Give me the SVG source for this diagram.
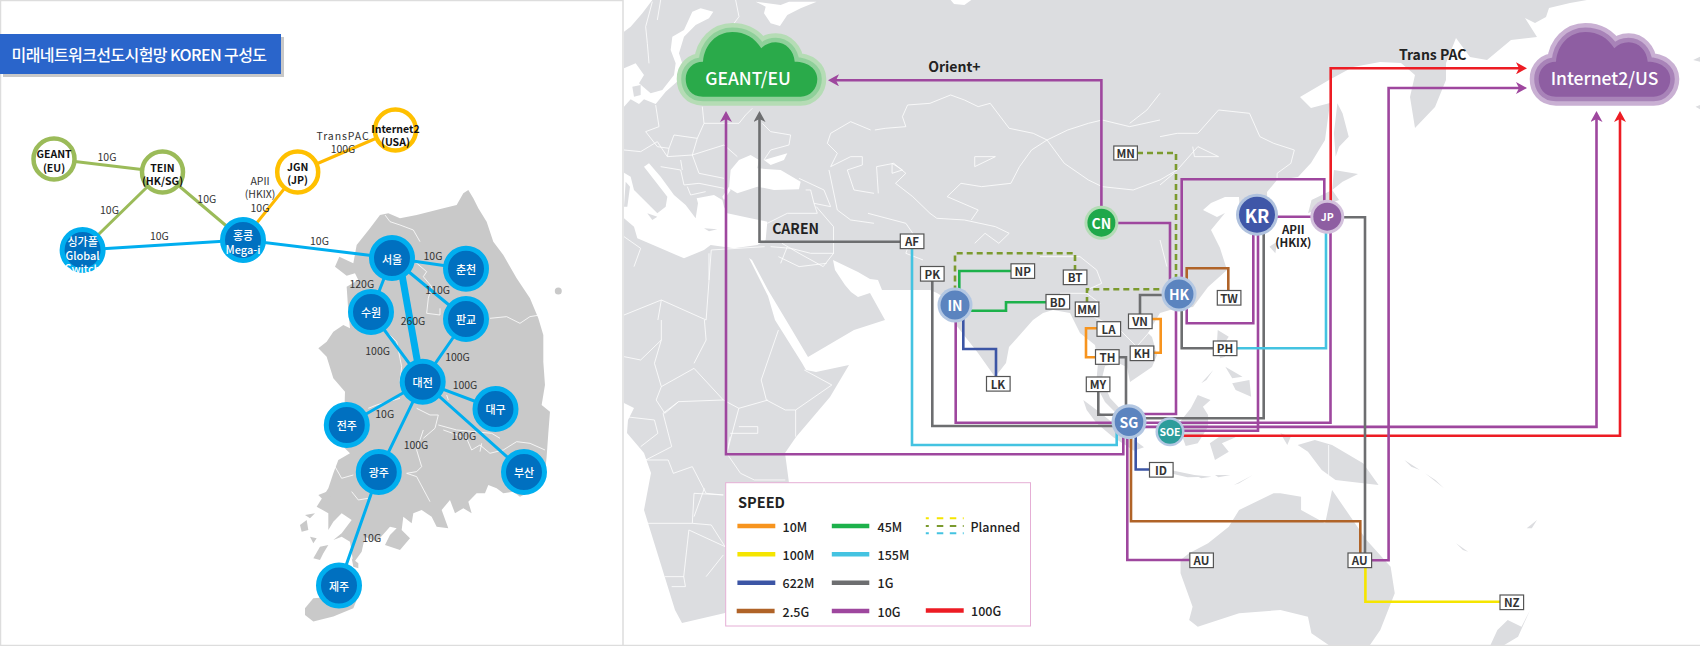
<svg xmlns="http://www.w3.org/2000/svg" width="1700" height="646" viewBox="0 0 1700 646">
<style>
text{font-family:"Noto Sans CJK KR","Noto Sans",sans-serif;dominant-baseline:central}
.m{text-anchor:middle}
.lb{font-size:10.5px;fill:#333;text-anchor:middle}
.nb{font-size:10.5px;font-weight:700;fill:#111;text-anchor:middle}
.nw{font-size:11px;font-weight:500;fill:#fff;text-anchor:middle}
.lnd{fill:#dcdde0}
.sea{fill:#fff}
.kr{fill:#c9c9c9}
.bd{fill:none;stroke:#fff;stroke-width:.8;vector-effect:non-scaling-stroke}
.l{fill:none;stroke-width:2.6}
.or{stroke:#f7941e}.ye{stroke:#f5e500}.bl{stroke:#3c55a5}.br{stroke:#b06328}.gn{stroke:#1db14b}.cy{stroke:#44c3e1}.gy{stroke:#6d6e70}.pu{stroke:#9e479e}.re{stroke:#ed1c24}
.pl{stroke:#7b9a2e;stroke-dasharray:6 4}
.k{fill:none;stroke-width:3}
.kg{stroke:#9bbb59}.ky{stroke:#ffb900}.kc{stroke:#00aeef}
.rg{fill:#fff;stroke-width:4.5}
.ci{fill:#0070c0;stroke:#00aeef;stroke-width:5}
.box rect{fill:#fff;stroke:#555;stroke-width:1.2}
.box text{font-size:11.5px;font-weight:700;fill:#333;text-anchor:middle}
.hub{font-weight:700;fill:#fff;text-anchor:middle}
.tt{font-size:14px;font-weight:700;fill:#222;text-anchor:middle}
.leg{font-size:12.5px;font-weight:500;fill:#222}
</style>
<defs>
<marker id="ap" markerUnits="userSpaceOnUse" markerWidth="12" markerHeight="12" refX="3" refY="6" orient="auto"><path d="M0 0L11 6L0 12L3 6Z" fill="#9e479e"/></marker>
<marker id="ag" markerUnits="userSpaceOnUse" markerWidth="12" markerHeight="12" refX="3" refY="6" orient="auto"><path d="M0 0L11 6L0 12L3 6Z" fill="#6d6e70"/></marker>
<marker id="ar" markerUnits="userSpaceOnUse" markerWidth="12" markerHeight="12" refX="3" refY="6" orient="auto"><path d="M0 0L11 6L0 12L3 6Z" fill="#ed1c24"/></marker>
<path id="cloud" d="M703 96.700C691 96.700 685.700 88 685.700 79C685.700 69 693 61.700 703 61.700C704.500 44 717 32 732.300 32C745 32 755 38 761.300 48.300C765 44.500 770 42.300 775.700 42.300C786 42.300 794 51 794.700 61.700C808 61.700 817.300 69 817.300 79C817.300 89 810 96.700 800.700 96.700Z"/>
</defs>
<rect width="1700" height="646" fill="#fff"/>

<!-- world map -->
<g id="world-map">
<path class="lnd" d="M624 0L1587 0L1570 3L1549 8L1546 17L1535 23L1525 18L1537 37L1511 40L1487 60L1470 57L1456 38L1446 63L1446 80L1435 107L1415 128L1410 97L1415 75L1401 63L1380 62L1353 67L1329 80L1300 97L1311 108L1330 103L1325 140L1311 163L1298 177L1277 180L1267 192L1268 225L1250 235L1240 215L1239 197L1225 197L1211 203L1203 210L1217 217L1225 213L1211 230L1220 248L1227 270L1208 287L1193 307L1170 310L1160 313L1148 333L1152 337L1157 355L1152 367L1130 382L1127 367L1118 363L1105 366L1102 378L1110 398L1125 414L1118 415L1105 402L1096 385L1098 363L1095 345L1080 333L1070 313L1053 310L1043 313L1033 320L1009 347L1006 363L995 377L978 353L956 325L945 298L937 293L930 290L882 290L878 280L870 279L858 272L833 260L835 270L845 285L851 292L858 297L870 293L885 320L854 330L808 357L792 330L768 290L752 260L749 258L768 296L775 320L802 363L806 370L816 372L849 365L830 397L796 437L785 453L789 483L770 560L725 613L682 623L675 610L644 510L651 473L644 453L627 433L628 420L634 408L624 403Z"/>
<g transform="translate(624 0) scale(.3333)">
<path class="sea" d="M0 0L85 0L55 40L20 80L0 95ZM205 35L230 25L268 35L255 55L215 75L195 95L180 110L165 160L178 200L165 240L125 275L95 312L60 298L45 312L20 298L0 320L0 205L35 190L60 225L45 250L80 280L115 270L150 225L155 190L140 150L145 110L180 90ZM395 5L470 15L495 5L578 5L530 25L490 45L468 78L440 70L420 40L425 20Z"/>
<path class="sea" d="M0 518L20 530L30 570L70 610L100 640L125 620L130 590L60 500L75 490L110 530L150 585L185 615L215 655L222 610L218 595L270 585L295 600L300 620L310 640L380 655L430 665L425 720L400 735L330 745L260 735L240 750L180 775L110 745L40 715L30 680L0 655Z"/>
<path class="sea" d="M320 510L345 480L380 465L405 480L400 505L470 510L530 545L525 568L450 570L400 560L340 580L315 565ZM420 480L490 460L480 480L440 495Z"/>
<path class="sea" d="M295 590L315 560L320 570L300 600Z"/>
<path class="lnd" d="M25 260L50 255L50 285L30 290ZM5 545L18 560L10 620L0 620ZM70 640L100 650L85 660ZM240 685L280 688L255 694Z"/>
<path class="bd" d="M85 5L65 80L70 130L75 190M110 0L100 60M335 0L345 50L330 70L345 100M95 315L105 380L65 395L100 440L135 445L150 405L220 415L240 370L235 320M240 370L345 370L365 345L385 325M415 370L440 395L500 405L495 435L440 450L420 480M220 415L205 465L300 435L340 470M135 445L130 470L100 425L50 455L0 450M130 470L205 465L225 520L300 535M110 500L170 510L180 555L225 550L300 565M170 480L175 510M190 560L200 585L245 575M525 535L600 570L620 620L570 610L560 570L545 570M620 400L680 365L740 390M610 430L640 460L620 500L680 470L715 470L715 495L670 510L690 570L750 580M615 510L640 630L680 660L750 670M430 670L490 640L580 640L570 610M440 740L500 745L560 760L630 760M490 740L470 790M255 760L255 840M0 710L50 745L30 800M620 400L610 430"/>
</g>
<g transform="translate(620 0) scale(.3444 .3333)">
<path class="sea" d="M960 0L1020 0L1000 15L970 12Z"/>
<path class="bd" d="M740 390L770 385L830 380L820 350L835 315L900 310L960 285L1000 300L1040 320L1075 310L1130 385L1200 400L1240 420L1300 390L1360 370L1400 360L1480 380L1568 360M1240 420L1195 450L1160 500L1135 550L1050 560L990 550L950 590L1040 630L1020 660M1240 420L1290 490L1360 540L1400 560L1490 570L1568 540M750 580L745 500L795 490L830 520L800 550L850 590L900 640L920 655L1000 660L1090 680L1130 700L1100 730L1060 700L1030 730M720 640L830 670L850 700L830 760L880 780M570 620L620 680L620 760L590 800L520 760L470 730M1030 470L1090 470L1030 500ZM1480 370L1530 330L1568 280M790 490L790 520L820 510Z"/>
<path class="bd" d="M0 950L120 900L250 960L265 750M120 900L110 960M265 750L420 740M460 770L520 800L600 790"/>
</g>
<g transform="translate(620 320) scale(.3444 .3333)">
<path class="bd" d="M120 0L120 60L60 120L12 110M120 60L100 130L120 200L105 240L130 280L170 245L300 240M120 200L215 145L300 240L345 265L310 400M245 0L250 60L215 130M460 30L440 90L410 180L425 240L480 270L510 270L510 350M430 240L345 265M510 270L615 195L535 150M15 290L100 300L110 340L60 380M170 245L125 280L150 380L75 420L140 420L155 460L210 440L250 520L300 525M320 350L310 400L350 460L390 480L480 480M300 525L215 520L210 610L70 610M210 610L265 615L305 680L200 630L185 770L130 770M185 770L190 800L150 800M300 705L250 770M245 505L215 590M320 340L400 340L400 320L345 320"/>
</g>
<g transform="translate(1060 320) scale(.3444 .3333)">
<path class="lnd" d="M380 265L400 225L437 240L415 260L430 285L430 320L400 370L365 378L350 335L345 310ZM435 370L470 345L510 352L470 370L490 395L450 420ZM640 340L670 350L660 375ZM690 375L740 360L790 375L880 430L925 495L880 490L800 480L760 450L720 395ZM458 30L490 50L470 80L480 110L465 115L455 80ZM500 190L550 180L555 230L510 210ZM480 140L530 170L500 175ZM410 190L445 150L425 180ZM320 450L390 465L430 470L370 472L320 460ZM390 465L440 470L410 475ZM450 465L495 465L460 472ZM505 495L560 465L520 490ZM1000 420L1045 450L1020 440ZM1060 460L1115 505L1090 480Z"/>
<path class="lnd" d="M350 720L375 700L430 670L490 620L520 570L620 520L640 520L700 530L700 570L770 610L790 510L830 570L890 660L960 740L972 820L930 930L900 975L780 975L730 940L720 890L640 870L520 880L400 920L375 900L385 860L350 760Z"/>
<path class="lnd" d="M1365 870L1340 920L1300 900L1270 930L1250 975L1290 975L1330 950ZM1355 625L1385 600L1370 625ZM1150 670L1185 695L1170 690Z"/>
<path class="bd" d="M780 375L780 470"/>
</g>
<g transform="translate(1040 360) scale(.3333)">
<path class="lnd" d="M130 120L170 150L220 190L270 230L312 262L282 272L220 232L170 190L140 150Z"/>
</g>
<g transform="translate(1160 0) scale(.3444 .3333)">
<path class="lnd" d="M515 310L530 340L548 410L520 440L510 470L505 400ZM505 510L575 522L530 545L500 570ZM500 570L520 600L470 620L430 640L440 600ZM318 740L340 725L335 760Z"/>
<path class="lnd" d="M1548 180L1568 170L1568 185ZM1555 320L1568 315L1568 328Z"/>
<path class="bd" d="M0 410L50 400L110 400L170 330L260 340L290 410L330 430L390 450L380 490L340 520L340 550M0 540L50 510L110 440L170 470L100 470L95 440M0 720L20 800M0 555L40 520"/>
</g>
<g transform="translate(1060 160) scale(.3333)">
<path class="bd" d="M-60 290L60 290L110 330L125 370L80 390M0 400L80 400L120 430L100 470M100 470L180 510L230 560L300 480M300 560L230 600"/>
</g>
</g>

<!-- korea map -->
<g id="korea-map">
<g transform="translate(300 185) scale(.3333)">
<path class="kr" d="M505 15L520 40L535 70L560 110L580 170L610 210L650 280L690 340L715 400L730 450L730 530L735 600L725 660L750 680L745 745L740 815L735 865L700 915L660 935L640 920L610 925L590 910L565 900L555 925L530 925L505 950L515 985L490 970L465 985L450 945L425 975L445 1030L410 1025L395 995L365 975L340 985L335 1015L310 995L305 1035L330 1060L300 1095L255 1080L270 1050L290 1030L270 1025L230 1070L195 1055L185 1100L160 1135L150 1070L125 1055L100 1065L125 1045L155 1005L125 985L100 1010L85 1035L85 985L50 965L85 910L100 865L115 825L150 805L130 785L135 620L100 580L80 515L55 490L80 470L100 440L130 420L150 430L145 380L140 305L175 285L165 265L140 272L105 245L118 215L160 235L170 180L210 130L240 90L265 85L300 100L350 90L430 70L470 60L490 25Z"/>
<path class="kr" d="M40 1120L60 1085L85 1080L70 1105L60 1125ZM0 1020L20 1005L25 1035L5 1040ZM15 990L45 985L30 1000ZM30 1055L50 1060L40 1075ZM55 930L80 920L100 945L75 950ZM155 1120L175 1135L175 1150L160 1145Z"/>
<path class="kr" d="M15 1270L40 1240L100 1235L170 1245L160 1270L100 1295L40 1310L15 1290Z"/>
<path class="bd" d="M255 90L270 110L300 120L340 135L360 170M345 230L380 260L370 275L395 305L385 340L380 385L420 390L420 370M255 435L290 470L300 520L305 545L300 590M720 390L690 395L660 415L620 395L570 400M205 670L230 660L300 640M440 630L445 645M350 670L390 690L415 690L405 730L370 760M415 720L470 735L575 745L600 760M105 845L125 880L160 870M155 920L175 945L205 940"/>
<path class="bd" d="M370 735L350 795L365 845L350 860L320 865L350 875L390 950M430 735L500 760L515 795L540 780L570 805L610 795L650 770L690 775L735 795M545 775L540 800"/>
</g>
<circle class="kr" cx="558.300" cy="291" r="3.500"/>
</g>

<!-- frame -->
<path id="frame" d="M.5 646V.5H623M623 0V646M0 645.500H1700" fill="none" stroke="#ddd" stroke-width="1.500"/>

<!-- title -->
<g id="title">
<rect x="3" y="37" width="281" height="40" fill="#c8c8c8"/>
<rect y="34" width="281" height="40" fill="#2a65cb"/>
<text x="139" y="54" class="m" font-size="16" font-weight="500" fill="#fff" letter-spacing="-.6">미래네트워크선도시험망 KOREN 구성도</text>
</g>

<!-- connectors -->
<g id="connectors">
<g id="korea-links">
<path class="k kg" d="M54 159L162.500 172M162.500 172L82.600 250M162.500 172L243 240"/>
<path class="k ky" d="M243 240L297.700 172M297.700 172L395.400 130"/>
<path class="k kc" d="M82.600 250L243 240L392 258L466 268.700M392 258L371 312M392 258L466 319M371 312L422.700 381.700M466 319L422.700 381.700M422.700 381.700L495.500 409M422.700 381.700L524 472M422.700 381.700L346.800 425M422.700 381.700L378.800 472L339 585.600"/>
<path class="k kc" style="stroke-width:7" d="M399 258L421 381.700"/>
</g>
<g id="world-links">
<path class="l pu" marker-end="url(#ap)" d="M1101.400 222.700V80.300H836"/>
<path class="l gy" marker-end="url(#ag)" d="M912 241.700H759.500V119"/>
<path class="l pu" marker-end="url(#ap)" d="M1123.300 425V454.300H726V119"/>
<path class="l cy" d="M912 241V445H1116.700V425"/>
<path class="l gy" d="M932.300 274V426H1129"/>
<path class="l pu" d="M955.700 305V422.700H1330.500V217"/>
<path class="l pu" marker-end="url(#ap)" d="M1129 426.900H1596.500V119"/>
<path class="l re" marker-end="url(#ar)" d="M1170 435.700H1620V119"/>
<path class="l re" marker-end="url(#ar)" d="M1330.700 217V68.300H1519"/>
<path class="l pu" marker-end="url(#ap)" d="M1360 560.300H1388.600V88H1519"/>
<path class="l gy" d="M1327 217.300H1365V553"/>
<path class="l gy" d="M1263.700 215V418.300H1129"/>
<path class="l pu" d="M1258 215V430.800H1170"/>
<path class="l pu" d="M1253.300 215V323.300H1186.700V294"/>
<path class="l br" d="M1186.700 294V268.300H1228.300V291"/>
<path class="l pu" d="M1257 216.700H1327"/>
<path class="l pu" d="M1324.300 217V179.300H1181.700V294"/>
<path class="l pl" d="M1137 153H1176V294"/>
<path class="l pl" d="M1087 303V289.300H1179"/>
<path class="l pl" d="M1075 271V253.300H955V305"/>
<path class="l pu" d="M1101.400 223H1170V294"/>
<path class="l pu" d="M1176 294V414H1129"/>
<path class="l gy" d="M1181.700 294V348.300H1213"/>
<path class="l cy" d="M1237 348.300H1326V217"/>
<path class="l gy" d="M1140 314V295H1179"/>
<path class="l or" d="M1097 328.300H1086V357.300H1096"/>
<path class="l or" d="M1151 319H1160.700V352.700H1153"/>
<path class="l gy" d="M1118 357.300H1126V422"/>
<path class="l gy" d="M1098.300 390V414.700H1129"/>
<path class="l gn" d="M959.300 305V271H1011"/>
<path class="l gn" d="M955 310.700H1006V302.300H1046"/>
<path class="l bl" d="M963.300 305V349H996V377"/>
<path class="l bl" d="M1135.700 422V469.500H1150"/>
<path class="l pu" d="M1127.300 422V560H1190"/>
<path class="l br" d="M1131 422V521.300H1360.300V553"/>
<path class="l ye" d="M1365.400 567V601.700H1500"/>
</g>
</g>

<!-- korea labels -->
<g id="link-labels">
<text class="lb" x="107" y="156">10G</text>
<text class="lb" x="109.500" y="209">10G</text>
<text class="lb" x="206.800" y="198.700">10G</text>
<text class="lb" x="260" y="180">APII</text>
<text class="lb" x="260" y="193.700">(HKIX)</text>
<text class="lb" x="260" y="207">10G</text>
<text class="lb" x="343" y="135" letter-spacing=".9">TransPAC</text>
<text class="lb" x="343" y="148">100G</text>
<text class="lb" x="159.400" y="235">10G</text>
<text class="lb" x="319.500" y="240.700">10G</text>
<text class="lb" x="433" y="255.700">10G</text>
<text class="lb" x="361.800" y="283">120G</text>
<text class="lb" x="437.700" y="289.700">110G</text>
<text class="lb" x="413" y="320">260G</text>
<text class="lb" x="377.600" y="350">100G</text>
<text class="lb" x="457.500" y="356.700">100G</text>
<text class="lb" x="465" y="384.700">100G</text>
<text class="lb" x="384.700" y="413">10G</text>
<text class="lb" x="463.800" y="435.700">100G</text>
<text class="lb" x="416" y="444">100G</text>
<text class="lb" x="371.700" y="537.300">10G</text>
</g>

<!-- korea nodes -->
<g id="n-geant"><circle class="rg kg" cx="54" cy="159" r="20.500"/><text class="nb" x="54" y="153.700">GEANT</text><text class="nb" x="54" y="167.300">(EU)</text></g>
<g id="n-tein"><circle class="rg kg" cx="162.500" cy="172" r="20.500"/><text class="nb" x="162.500" y="167">TEIN</text><text class="nb" x="162.500" y="180.300">(HK/SG)</text></g>
<g id="n-internet2"><circle class="rg" stroke="#ffc000" cx="395.400" cy="130" r="20.500"/><text class="nb" x="395.400" y="128">Internet2</text><text class="nb" x="395.400" y="141.300">(USA)</text></g>
<g id="n-jgn"><circle class="rg" stroke="#ffc000" cx="297.700" cy="172" r="20.500"/><text class="nb" x="297.700" y="166">JGN</text><text class="nb" x="297.700" y="179.700">(JP)</text></g>
<g id="n-singapore"><circle class="ci" cx="82.600" cy="250" r="20.500"/><text class="nw" x="82.600" y="241">싱가폴</text><text class="nw" x="82.600" y="255">Global</text><text class="nw" x="82.600" y="268">Switch</text></g>
<g id="n-hongkong"><circle class="ci" cx="243" cy="240" r="20.500"/><text class="nw" x="243" y="235">홍콩</text><text class="nw" x="243" y="248.700">Mega-i</text></g>
<g id="n-seoul"><circle class="ci" cx="392" cy="258" r="20.500"/><text class="nw" x="392" y="259">서울</text></g>
<g id="n-chuncheon"><circle class="ci" cx="466" cy="268.700" r="20.500"/><text class="nw" x="466" y="268.700">춘천</text></g>
<g id="n-suwon"><circle class="ci" cx="371" cy="312" r="20.500"/><text class="nw" x="371" y="312">수원</text></g>
<g id="n-pangyo"><circle class="ci" cx="466" cy="319" r="20.500"/><text class="nw" x="466" y="319">판교</text></g>
<g id="n-daejeon"><circle class="ci" cx="422.700" cy="381.700" r="20.500"/><text class="nw" x="422.700" y="381.700">대전</text></g>
<g id="n-daegu"><circle class="ci" cx="495.500" cy="409" r="20.500"/><text class="nw" x="495.500" y="409">대구</text></g>
<g id="n-jeonju"><circle class="ci" cx="346.800" cy="425" r="20.500"/><text class="nw" x="346.800" y="425">전주</text></g>
<g id="n-gwangju"><circle class="ci" cx="378.800" cy="472" r="20.500"/><text class="nw" x="378.800" y="472">광주</text></g>
<g id="n-busan"><circle class="ci" cx="524" cy="472" r="20.500"/><text class="nw" x="524" y="472">부산</text></g>
<g id="n-jeju"><circle class="ci" cx="339" cy="585.600" r="20.500"/><text class="nw" x="339" y="585.600">제주</text></g>

<!-- clouds -->
<g id="n-geant-eu">
<use href="#cloud" fill="#b5dcb5" stroke="#b5dcb5" stroke-width="18" stroke-linejoin="round"/>
<use href="#cloud" fill="#8fd09a" stroke="#8fd09a" stroke-width="9" stroke-linejoin="round"/>
<use href="#cloud" fill="#2aaa4a"/>
<text x="748" y="77" class="m" font-size="17.500" font-weight="500" fill="#fff">GEANT/EU</text>
</g>
<g id="n-internet2-us">
<g transform="translate(853 0)">
<use href="#cloud" fill="#c9b0d3" stroke="#c9b0d3" stroke-width="18" stroke-linejoin="round"/>
<use href="#cloud" fill="#a883b8" stroke="#a883b8" stroke-width="9" stroke-linejoin="round"/>
<use href="#cloud" fill="#8e5ea2"/>
</g>
<text x="1604.500" y="77" class="m" font-size="17.500" font-weight="500" fill="#fff">Internet2/US</text>
</g>

<!-- hubs -->
<g id="n-cn"><circle cx="1101.400" cy="222.700" r="17" fill="#b3dcb5"/><circle cx="1101.400" cy="222.700" r="14" fill="#1fa84a"/><text class="hub" font-size="14" x="1101.400" y="222.700">CN</text></g>
<g id="n-in"><circle cx="955" cy="305" r="17.500" fill="#b3c7e2"/><circle cx="955" cy="305" r="14.500" fill="#5b84bf"/><text class="hub" font-size="14" x="955" y="305">IN</text></g>
<g id="n-hk"><circle cx="1179" cy="294" r="17.500" fill="#b3c7e2"/><circle cx="1179" cy="294" r="14.500" fill="#5b84bf"/><text class="hub" font-size="14" x="1179" y="294">HK</text></g>
<g id="n-kr"><circle cx="1257" cy="214.700" r="21" fill="#b0c2de"/><circle cx="1257" cy="214.700" r="18" fill="#3f57a8"/><text class="hub" font-size="18" x="1257" y="214.700">KR</text></g>
<g id="n-jp"><circle cx="1327.300" cy="216.700" r="17" fill="#d3c1dc"/><circle cx="1327.300" cy="216.700" r="14" fill="#8e5ea2"/><text class="hub" font-size="10.500" x="1327.300" y="216.700">JP</text></g>
<g id="n-sg"><circle cx="1129" cy="421.700" r="17.500" fill="#b3c7e2"/><circle cx="1129" cy="421.700" r="14.300" fill="#5b84bf"/><text class="hub" font-size="14" x="1129" y="421.700">SG</text></g>
<g id="n-soe"><circle cx="1170" cy="431.700" r="14.500" fill="#b3c7e2"/><circle cx="1170" cy="431.700" r="12" fill="#2d9d9b"/><text class="hub" font-size="10.500" x="1170" y="431.700">SOE</text></g>

<!-- boxes -->
<g class="box">
<g id="b-af"><rect x="900.300" y="234" width="23.600" height="14.600"/><text x="912" y="241.300">AF</text></g>
<g id="b-pk"><rect x="920.500" y="266.500" width="23.600" height="14.600"/><text x="932.300" y="273.800">PK</text></g>
<g id="b-mn"><rect x="1113.800" y="146" width="23.600" height="14"/><text x="1125.600" y="153">MN</text></g>
<g id="b-np"><rect x="1011" y="263.800" width="23.600" height="14.600"/><text x="1022.700" y="271">NP</text></g>
<g id="b-bt"><rect x="1063.300" y="270" width="23.600" height="14.600"/><text x="1075" y="277.300">BT</text></g>
<g id="b-bd"><rect x="1046" y="294.500" width="23.600" height="14.600"/><text x="1057.700" y="301.700">BD</text></g>
<g id="b-mm"><rect x="1075.300" y="302" width="23.600" height="14.600"/><text x="1087" y="309">MM</text></g>
<g id="b-vn"><rect x="1128.500" y="314" width="23.600" height="14.600"/><text x="1140" y="320.700">VN</text></g>
<g id="b-la"><rect x="1097" y="321.700" width="23.600" height="14.600"/><text x="1108.600" y="329">LA</text></g>
<g id="b-th"><rect x="1095.500" y="349.700" width="23.600" height="14.600"/><text x="1107.500" y="356.700">TH</text></g>
<g id="b-kh"><rect x="1130.200" y="346" width="23.600" height="14.600"/><text x="1142" y="353.300">KH</text></g>
<g id="b-my"><rect x="1086.300" y="377" width="23.600" height="14.600"/><text x="1098" y="384.300">MY</text></g>
<g id="b-lk"><rect x="986.500" y="376.500" width="23.600" height="14.600"/><text x="998" y="383.700">LK</text></g>
<g id="b-tw"><rect x="1217.300" y="290.500" width="23.600" height="14.600"/><text x="1229" y="297.700">TW</text></g>
<g id="b-ph"><rect x="1213.300" y="341" width="23.600" height="14.600"/><text x="1225" y="348.300">PH</text></g>
<g id="b-id"><rect x="1149.500" y="462.500" width="23.600" height="14.600"/><text x="1161" y="469.700">ID</text></g>
<g id="b-au1"><rect x="1189.800" y="553" width="23.600" height="14.600"/><text x="1201.500" y="560.300">AU</text></g>
<g id="b-au2"><rect x="1348" y="553" width="23.600" height="14.600"/><text x="1359.700" y="560.300">AU</text></g>
<g id="b-nz"><rect x="1500" y="595" width="23.600" height="14.600"/><text x="1511.800" y="602">NZ</text></g>
</g>

<!-- world labels -->
<g id="world-labels">
<text class="tt" x="954.400" y="65.700">Orient+</text>
<text class="tt" x="795.600" y="228">CAREN</text>
<text class="tt" x="1432.700" y="53.700">Trans PAC</text>
<text class="tt" style="font-size:11.5px" x="1293.300" y="229">APII</text>
<text class="tt" style="font-size:11.5px" x="1293.300" y="242.300">(HKIX)</text>
</g>

<!-- legend -->
<g id="legend">
<rect x="725.700" y="482.700" width="304.800" height="143.300" fill="#fff" stroke="#e5aed5" stroke-width="1"/>
<text x="738" y="501.700" font-size="14.500" font-weight="700" fill="#222">SPEED</text>
<g fill="none" stroke-width="4.500">
<path class="or" d="M737.400 526H775.300"/><path class="ye" d="M737.400 554.300H775.300"/><path class="bl" d="M737.400 582.700H775.300"/><path class="br" d="M736.700 611H774.600"/>
<path class="gn" d="M831.800 526H869.300"/><path class="cy" d="M831.800 554.300H869.300"/><path class="gy" d="M831.800 582.700H869.300"/><path class="pu" d="M831.800 611H869.300"/>
<path class="re" d="M925.800 610.500H963.700"/>
</g>
<g fill="none" stroke-width="2" stroke-dasharray="3 8 6.500 6.500 6.500 6.500 3 0">
<path stroke="#f5e500" d="M925.800 518.300H963.700"/><path stroke="#7b9a2e" d="M925.800 526H963.700"/><path stroke="#44c3e1" d="M925.800 533.300H963.700"/>
</g>
<text class="leg" x="782.500" y="526">10M</text><text class="leg" x="782.500" y="554.300">100M</text><text class="leg" x="782.500" y="582.700">622M</text><text class="leg" x="782.500" y="611">2.5G</text>
<text class="leg" x="877.600" y="526">45M</text><text class="leg" x="877.600" y="554.300">155M</text><text class="leg" x="877.600" y="582.700">1G</text><text class="leg" x="877.600" y="611">10G</text>
<text class="leg" x="970.500" y="526">Planned</text><text class="leg" x="971" y="610.500">100G</text>
</g>
</svg>
